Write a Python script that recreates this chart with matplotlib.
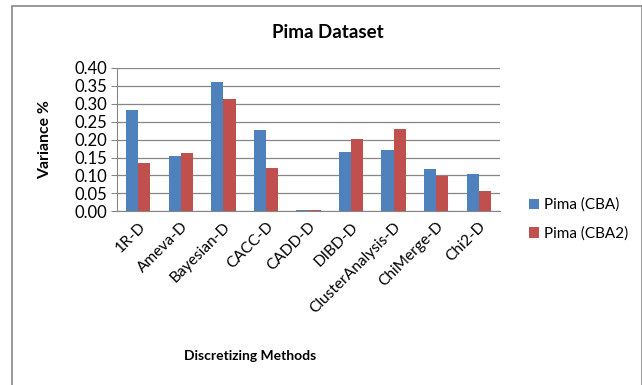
import matplotlib.pyplot as plt
from matplotlib.patches import Rectangle
import numpy as np

methods = ['1R-D', 'Ameva-D', 'Bayesian-D', 'CACC-D', 'CADD-D', 'DIBD-D',
           'ClusterAnalysis-D', 'ChiMerge-D', 'Chi2-D']
cba = [0.283, 0.154, 0.361, 0.228, 0.003, 0.166, 0.171, 0.117, 0.105]
cba2 = [0.135, 0.164, 0.313, 0.120, 0.003, 0.201, 0.230, 0.099, 0.057]
yticks = [0.00, 0.05, 0.10, 0.15, 0.20, 0.25, 0.30, 0.35, 0.40]

plt.rcParams['font.family'] = ['Lato', 'DejaVu Sans']

fig = plt.figure(figsize=(6.42, 3.85), dpi=100)
ax = fig.add_axes([0.1822, 0.4512, 0.5966, 0.3722])

# outer chart frame (only left/top visible in the reference)
fig.patches.append(Rectangle((12/642, -0.1), 629.5/642, 1.1 - 6/385,
                             transform=fig.transFigure, fill=False,
                             edgecolor='#868686', linewidth=1.2))

x = np.arange(len(methods))
w = 0.286
ax.bar(x - w/2, cba, w, color='#4F81BD', label='Pima (CBA)', zorder=3)
ax.bar(x + w/2, cba2, w, color='#C0504D', label='Pima (CBA2)', zorder=3)

ax.set_xlim(-0.5, len(methods) - 0.5)
ax.set_ylim(0, 0.40)
ax.set_yticks(yticks)
ax.set_yticklabels(['%.2f' % v for v in yticks], fontsize=12)
ax.yaxis.grid(True, color='#868686', linewidth=0.9, zorder=0)
ax.set_xticks(x)
ax.set_xticklabels(methods, rotation=45, ha='right', rotation_mode='anchor',
                   fontsize=11.2)
ax.tick_params(axis='x', length=0, pad=6)
ax.tick_params(axis='y', length=4, color='#868686', pad=3)

for s in ['top', 'right']:
    ax.spines[s].set_visible(False)
for s in ['left', 'bottom']:
    ax.spines[s].set_color('#868686')

ax.set_ylabel('Variance %', fontsize=11.3, fontweight='bold')
ax.yaxis.set_label_coords(-(117 - 52) / 383, 0.5)
fig.text(250/642, 1 - 356/385, 'Discretizing Methods', fontsize=10,
         fontweight='bold', ha='center', va='center')
fig.text(328/642, 1 - 33/385, 'Pima Dataset', fontsize=13.5,
         fontweight='bold', ha='center', va='center')

fig.legend(loc='upper left', bbox_to_anchor=(515/642, 1 - 184/385),
           frameon=False, fontsize=11, handlelength=0.65, handleheight=0.65,
           handletextpad=0.35, labelspacing=0.95)

fig.savefig('out.png', dpi=100)
